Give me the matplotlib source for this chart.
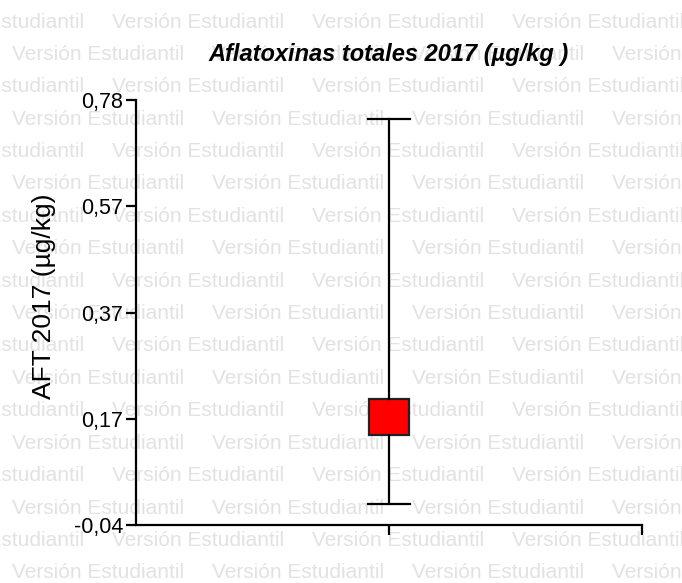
import matplotlib
matplotlib.use("Agg")
import matplotlib.pyplot as plt
import numpy as np

# values (µg/kg)
group = "AFT 2017"
whisker_low = 0.0
q1 = 0.133
median = 0.17
q3 = 0.203
whisker_high = 0.743

y_min, y_max = -0.04, 0.78
tick_labels = ["-0,04", "0,17", "0,37", "0,57", "0,78"]
watermark = "Versión Estudiantil"

plt.rcParams['font.family'] = ['Liberation Sans', 'DejaVu Sans']

fig = plt.figure(figsize=(6.82, 5.83), dpi=100)

# student-licence watermark behind everything
row_pitch = 32.4 / 583
col_pitch = 200 / 682
for r in range(19):
    y = 1 - (22 / 583) - r * row_pitch
    shift = -88 / 682 if r % 2 == 0 else 12 / 682
    for c in range(-1, 5):
        fig.text(shift + c * col_pitch, y, watermark, fontsize=15,
                 color='#e2e2e2', ha='left', va='center', zorder=-5)

ax = fig.add_axes([136 / 682, 58 / 583, 506 / 682, 425 / 583])
ax.patch.set_visible(False)

stats = [dict(label=group, whislo=whisker_low, q1=q1, med=median,
              q3=q3, whishi=whisker_high)]
ax.bxp(stats, positions=[1], widths=0.155, capwidths=0.165,
       showfliers=False, patch_artist=True,
       boxprops=dict(facecolor='#ff0000', edgecolor='#222222', linewidth=1.6),
       whiskerprops=dict(color='black', linewidth=1.6),
       capprops=dict(color='black', linewidth=1.6),
       medianprops=dict(visible=False))

ax.set_xlim(0, 2)
ax.set_ylim(y_min, y_max)
ax.set_xticks([1, 2])
ax.set_xticklabels(["", ""])
ax.set_yticks(np.linspace(y_min, y_max, 5))
ax.set_yticklabels(tick_labels)

for s in ['top', 'right']:
    ax.spines[s].set_visible(False)
for s in ['left', 'bottom']:
    ax.spines[s].set_linewidth(1.6)
ax.tick_params(axis='both', direction='out', length=7, width=1.6,
               labelsize=15.5, pad=2)

fig.text(389 / 682, 1 - 55 / 583, "Aflatoxinas totales 2017 (µg/kg )",
         fontsize=17, fontweight='bold', fontstyle='italic',
         ha='center', va='center')
fig.text(44 / 682, 1 - 296 / 583, "AFT 2017 (µg/kg)", fontsize=19,
         rotation=90, ha='center', va='center')

fig.savefig("out.png", dpi=100)
